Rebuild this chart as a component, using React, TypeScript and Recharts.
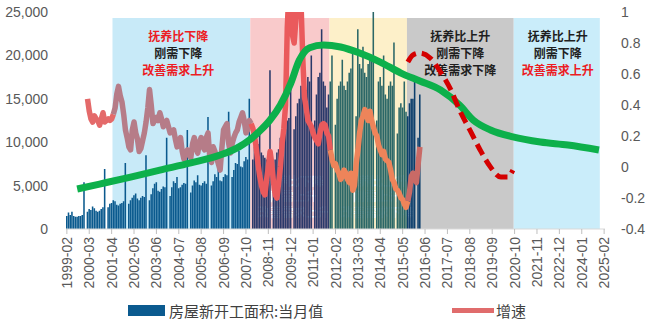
import React from 'react';
import { Bar, Cell, ComposedChart, Line, ReferenceArea, XAxis, YAxis } from 'recharts';

// monthly categories 1999-02 .. 2025-02
const MONTHS: string[] = Array.from({ length: 313 }, (_, i) => {
  const t = i + 1;
  return `${1999 + Math.floor(t / 12)}-${String((t % 12) + 1).padStart(2, '0')}`;
});

// 房屋新开工面积:当月值 (Jan is not published -> null)
const starts1999 = [1500, 1900, 1600, 2000, 1500, 1400, 1400, 1500, 1500, 1600, 5400]; // from Feb
const starts2000 = [null, 2000, 2300, 2200, 2600, 2400, 2100, 2000, 2100, 2300, 2500, 6900];
const starts2001 = [null, 2500, 2900, 3000, 3300, 3200, 2800, 2700, 2900, 3000, 3200, 7600];
const starts2002 = [null, 2900, 3300, 3600, 3900, 4100, 3500, 3300, 3600, 3800, 3700, 8500];
const starts2003 = [null, 3300, 4000, 4700, 5200, 5400, 4400, 4300, 4600, 4900, 4800, 10500];
const starts2004 = [null, 3800, 4800, 5500, 5300, 6000, 4700, 4800, 5100, 5300, 5200, 11400];
const starts2005 = [null, 4200, 5000, 5600, 5400, 6200, 5100, 5000, 5300, 5500, 5200, 12900];
const starts2006 = [null, 5000, 5500, 6300, 6000, 7000, 5600, 5500, 6000, 6300, 6200, 13500];
const starts2007 = [null, 6000, 6800, 7600, 7500, 9000, 7200, 7100, 7800, 8300, 8000, 15000];
const starts2008 = [null, 8000, 9500, 10500, 9800, 11000, 8800, 8500, 8200, 8000, 7800, 18300];
const starts2009 = [null, 7200, 8000, 8800, 9200, 10500, 10000, 10300, 11500, 12500, 12800, 16500];
const starts2010 = [null, 11500, 13000, 14500, 15000, 16500, 15200, 15500, 16000, 17500, 17000, 20000];
const starts2011 = [null, 12500, 15500, 17500, 18000, 23000, 17000, 16500, 14000, 15500, 17000, 20000];
const starts2012 = [null, 12000, 15000, 16500, 17000, 19500, 16500, 16000, 17000, 18000, 18500, 20500];
const starts2013 = [null, 13000, 23000, 19000, 18500, 21000, 18000, 17500, 19000, 20000, 19500, 26500];
const starts2014 = [null, 12500, 17000, 17500, 16500, 20000, 15500, 15000, 16500, 17000, 16500, 21500];
const starts2015 = [null, 11000, 14000, 14500, 14000, 17000, 13500, 13000, 14500, 15000, 15000, 17500];
const starts2016 = [null, 10500, 15500];

// 增速, starting 2000-02
const growth2000 = [0.44, 0.36, 0.31, 0.29, 0.33, 0.31, 0.3, 0.27, 0.31, 0.35, 0.29];
const growth2001 = [0.3, 0.31, 0.3, 0.31, 0.34, 0.38, 0.47, 0.52, 0.46, 0.42, 0.34, 0.24];
const growth2002 = [0.19, 0.13, 0.11, 0.24, 0.29, 0.22, 0.18, 0.1, 0.12, 0.17, 0.22, 0.29];
const growth2003 = [0.38, 0.5, 0.4, 0.28, 0.3, 0.32, 0.3, 0.35, 0.31, 0.26, 0.28, 0.3];
const growth2004 = [0.26, 0.22, 0.23, 0.24, 0.18, 0.13, 0.16, 0.19, 0.1, 0.05, 0.09, 0.11];
const growth2005 = [0.08, 0.06, 0.15, 0.19, 0.12, 0.09, 0.16, 0.19, 0.13, 0.11, 0.19, 0.22];
const growth2006 = [0.06, 0.03, 0.13, 0.1, 0.06, 0.02, -0.02, 0.12, 0.24, 0.26, 0.28, 0.15];
const growth2007 = [0.09, 0.15, 0.19, 0.22, 0.24, 0.29, 0.32, 0.35, 0.3, 0.22, 0.24, 0.3];
const growth2008 = [0.28, 0.25, 0.2, 0.12, 0.02, -0.06, -0.12, -0.16, -0.18, -0.08, 0.0, 0.1];
const growth2009 = [0.02, -0.1, -0.18, -0.2, -0.1, 0.0, 0.15, 0.25, 0.4, 0.9, 1.15, 1.1];
const growth2010 = [0.85, 0.8, 0.95, 1.1, 1.2, 1.05, 0.7, 0.45, 0.38, 0.3, 0.28, 0.26];
const growth2011 = [0.22, 0.19, 0.17, 0.15, 0.22, 0.27, 0.28, 0.27, 0.22, 0.2, 0.11, 0.05];
const growth2012 = [0.01, 0.02, -0.02, -0.04, -0.08, -0.06, -0.02, -0.04, -0.08, -0.1, -0.04, -0.15];
const growth2013 = [-0.12, 0.02, 0.11, 0.22, 0.3, 0.33, 0.37, 0.34, 0.3, 0.36, 0.3, 0.26];
const growth2014 = [0.22, 0.2, 0.14, 0.11, 0.08, 0.1, 0.05, 0.04, 0.03, -0.02, -0.08, -0.1];
const growth2015 = [-0.14, -0.15, -0.17, -0.2, -0.21, -0.24, -0.26, -0.22, -0.16, -0.06, -0.04, -0.08];
const growth2016 = [-0.1, 0.02, 0.13];
const GROWTH_FROM = '2000-02';

// green trend curve
const trendMonths = ['1999-08', '2000-09', '2002-03', '2003-08', '2005-02', '2006-07', '2007-06', '2007-12', '2008-06', '2008-12', '2009-06', '2009-12', '2010-05', '2010-11', '2011-07', '2012-05', '2013-04', '2014-04', '2015-04', '2016-03', '2017-03', '2018-02', '2018-10', '2019-08', '2020-09', '2022-01', '2023-05', '2024-11'];
const trendValues = [-0.142, -0.11, -0.065, -0.02, 0.026, 0.077, 0.13, 0.174, 0.232, 0.303, 0.4, 0.54, 0.69, 0.77, 0.787, 0.774, 0.735, 0.677, 0.606, 0.555, 0.497, 0.4, 0.303, 0.239, 0.194, 0.161, 0.142, 0.11];

// red dashed forecast
const forecastMonths = ['2015-08', '2015-11', '2016-03', '2016-09', '2017-03', '2017-09', '2018-02', '2018-08', '2019-02', '2019-08', '2020-02', '2020-06', '2020-09'];
const forecastValues = [0.677, 0.723, 0.735, 0.703, 0.613, 0.497, 0.368, 0.239, 0.11, 0.0, -0.065, -0.065, -0.02];

// shaded periods
const regionFrom = ['2001-05', '2008-01', '2011-11', '2015-08', '2020-10'];
const regionTo = ['2007-12', '2011-10', '2015-07', '2020-09', '2024-11'];
const regionText = [
  ['抚养比下降', '刚需下降', '改善需求上升'],
  ['抚养比下降', '刚需上升', '改善需求上升'],
  ['抚养比上升', '刚需上升', '改善需求下降'],
  ['抚养比上升', '刚需下降', '改善需求下降'],
  ['抚养比上升', '刚需下降', '改善需求上升'],
];

const leftTicks = [0, 5000, 10000, 15000, 20000, 25000];
const rightTicks = [-0.4, -0.2, 0, 0.2, 0.4, 0.6, 0.8, 1];

const RED = '#ec1c24';
const DARK = '#1f1f1f';
const WHITE = '#ffffff';
const REGION_FILL = ['#c8eaf8', '#f9cacb', '#fdf0c9', '#c9c9c9', '#caedfa'];
const REGION_TEXT_COLOR = [
  [RED, DARK, RED],
  [WHITE, WHITE, WHITE],
  [WHITE, WHITE, WHITE],
  [DARK, DARK, DARK],
  [DARK, DARK, RED],
];
const REGION_AT_BOTTOM = [false, true, true, false, false];
const REGION_DX = [-3, 4, 9, 0, 1];
// colours per segment: before shading, then each shaded period
const BAR_COLORS = ['#0b5a8e', '#0b5a8e', '#2a396a', '#2b6767', '#0c3e6c'];
const LINE_COLORS = ['#e46a6a', '#b67c88', '#ea5a5c', '#ee845a', '#c96a66'];

const FONT = "'Liberation Sans', Arial, 'Noto Sans CJK SC', sans-serif";
const CJK = "'Noto Sans CJK SC', sans-serif";

const startsAll = [
  ...starts1999, ...starts2000, ...starts2001, ...starts2002, ...starts2003, ...starts2004,
  ...starts2005, ...starts2006, ...starts2007, ...starts2008, ...starts2009, ...starts2010,
  ...starts2011, ...starts2012, ...starts2013, ...starts2014, ...starts2015, ...starts2016,
];
const growthAll = [
  ...growth2000, ...growth2001, ...growth2002, ...growth2003, ...growth2004, ...growth2005,
  ...growth2006, ...growth2007, ...growth2008, ...growth2009, ...growth2010, ...growth2011,
  ...growth2012, ...growth2013, ...growth2014, ...growth2015, ...growth2016,
];

const idx = (m: string) => MONTHS.indexOf(m);
const segStart = [0, ...regionFrom.slice(0, 4).map(idx), Infinity];
const segOf = (i: number) => segStart.findIndex((s, k) => i >= s && i < segStart[k + 1]);
const growthOffset = idx(GROWTH_FROM);

const data = MONTHS.map((month, i) => {
  const row: Record<string, any> = { month, starts: startsAll[i] ?? null };
  const g = i >= growthOffset ? growthAll[i - growthOffset] : undefined;
  for (let s = 0; s < 5; s++) {
    row[`g${s}`] = g != null && i >= segStart[s] && i <= segStart[s + 1] ? g : null;
  }
  const t = trendMonths.indexOf(month);
  row.trend = t >= 0 ? trendValues[t] : null;
  const f = forecastMonths.indexOf(month);
  row.forecast = f >= 0 ? forecastValues[f] : null;
  return row;
});

function regionLabel(k: number) {
  return (props: any) => {
    const { x, y, width, height } = props.viewBox;
    const cx = x + width / 2 + REGION_DX[k];
    const bottom = REGION_AT_BOTTOM[k];
    const step = bottom ? 15.5 : 17;
    const y0 = bottom ? y + height - 49 : y + 17.5;
    return (
      <g>
        {regionText[k].map((t, j) => (
          <text
            key={j}
            x={cx}
            y={y0 + j * step}
            textAnchor="middle"
            dominantBaseline="central"
            fontSize={12}
            fontWeight={700}
            fontFamily={CJK}
            fill={REGION_TEXT_COLOR[k][j]}
          >
            {t}
          </text>
        ))}
      </g>
    );
  };
}

function MonthTick({ x, y, payload }: any) {
  const ty = y + 1;
  return (
    <text
      x={x}
      y={ty}
      transform={`rotate(-90, ${x}, ${ty})`}
      textAnchor="end"
      dominantBaseline="central"
      fontSize={14}
      fontFamily={FONT}
      fill="#595959"
    >
      {payload.value}
    </text>
  );
}

export default function App() {
  return (
    <div style={{ position: 'absolute', left: 0, top: 0, width: 648, height: 325, background: '#fff', fontFamily: FONT }}>
      <ComposedChart width={648} height={300} data={data} margin={{ top: 12, right: 3, bottom: 0, left: 6 }}>
        {regionFrom.map((from, k) => (
          <ReferenceArea key={`bg${k}`} yAxisId="left" x1={from} x2={regionTo[k]} y1={0} y2={24300} fill={REGION_FILL[k]} fillOpacity={1} stroke="none" ifOverflow="visible" />
        ))}
        <XAxis
          dataKey="month"
          interval={12}
          height={71}
          tick={<MonthTick />}
          tickSize={5}
          tickLine={{ stroke: '#bfbfbf' }}
          axisLine={{ stroke: '#d9d9d9' }}
        />
        <YAxis
          yAxisId="left"
          width={60}
          domain={[0, 25000]}
          ticks={leftTicks}
          allowDataOverflow
          axisLine={false}
          tickLine={false}
          tickSize={0}
          tickMargin={18}
          tickFormatter={(v: number) => v.toLocaleString('en-US')}
          tick={{ fontSize: 14, fill: '#595959', fontFamily: FONT }}
        />
        <YAxis
          yAxisId="right"
          orientation="right"
          width={40}
          domain={[-0.4, 1]}
          ticks={rightTicks}
          allowDataOverflow
          axisLine={false}
          tickLine={false}
          tickSize={0}
          tickMargin={16}
          tickFormatter={(v: number) => String(Math.round(v * 10) / 10)}
          tick={{ fontSize: 14, fill: '#595959', fontFamily: FONT, textAnchor: 'start' }}
        />
        <Bar yAxisId="left" dataKey="starts" barSize={2} isAnimationActive={false}>
          {data.map((_, i) => (
            <Cell key={i} fill={BAR_COLORS[segOf(i)]} />
          ))}
        </Bar>
        {LINE_COLORS.map((c, s) => (
          <Line key={`g${s}`} yAxisId="right" dataKey={`g${s}`} stroke={c} strokeWidth={5.5} dot={false} type="linear" strokeLinejoin="round" isAnimationActive={false} />
        ))}
        <Line yAxisId="right" dataKey="trend" stroke="#0db04b" strokeWidth={7} dot={false} type="monotone" connectNulls isAnimationActive={false} />
        <Line yAxisId="right" dataKey="forecast" stroke="#d40000" strokeWidth={5} strokeDasharray="12 6" dot={false} type="monotone" connectNulls isAnimationActive={false} />
        {regionFrom.map((from, k) => (
          <ReferenceArea key={`lb${k}`} yAxisId="left" x1={from} x2={regionTo[k]} y1={0} y2={24300} fillOpacity={0} stroke="none" ifOverflow="visible" label={regionLabel(k)} />
        ))}
      </ComposedChart>
      <div style={{ position: 'absolute', left: 128, top: 305, width: 37, height: 11, background: '#0b5a8f' }} />
      <div style={{ position: 'absolute', left: 169, top: 300, fontSize: 15, lineHeight: '22px', color: '#404040', fontFamily: CJK }}>房屋新开工面积:当月值</div>
      <div style={{ position: 'absolute', left: 452, top: 308, width: 42, height: 5, background: '#e06c6c' }} />
      <div style={{ position: 'absolute', left: 496, top: 300, fontSize: 15, lineHeight: '22px', color: '#404040', fontFamily: CJK }}>增速</div>
    </div>
  );
}
